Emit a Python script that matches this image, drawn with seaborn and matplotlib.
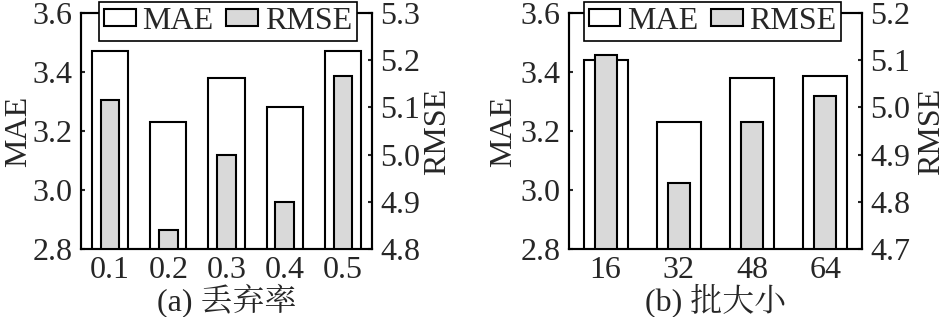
import numpy as np
import pandas as pd
import matplotlib
matplotlib.use("Agg")
import matplotlib.pyplot as plt
import seaborn as sns
from matplotlib.patches import Patch

# data
dropout_labels = ["0.1", "0.2", "0.3", "0.4", "0.5"]
dropout_mae = [3.47, 3.23, 3.38, 3.28, 3.47]
dropout_rmse = [5.116, 4.84, 5.0, 4.90, 5.167]

batch_labels = ["16", "32", "48", "64"]
batch_mae = [3.44, 3.23, 3.38, 3.385]
batch_rmse = [5.111, 4.84, 4.97, 5.024]

mae_ticks = [2.8, 3.0, 3.2, 3.4, 3.6]
rmse_ticks_a = [4.8, 4.9, 5.0, 5.1, 5.2, 5.3]
rmse_ticks_b = [4.7, 4.8, 4.9, 5.0, 5.1, 5.2]
captions = ["(a) 丢弃率", "(b) 批大小"]

sns.set_style("ticks")
FAM = ["Liberation Serif", "Noto Serif CJK SC", "Noto Sans CJK SC"]
plt.rcParams["font.family"] = FAM
plt.rcParams["axes.linewidth"] = 1.5
FS = 23

W, H = 946, 317
fig = plt.figure(figsize=(W / 100, H / 100), dpi=100)

GRAY = "#d9d9d9"

def panel(left, right, labels, mae, rmse, rticks, caption, mw, rw, leg_box, lab_x):
    ax = fig.add_axes([left / W, 1 - 249 / H, (right - left) / W, (249 - 13) / H])
    df = pd.DataFrame({"cat": labels, "mae": mae, "rmse": rmse})
    sns.barplot(data=df, x="cat", y="mae", order=labels, ax=ax, width=mw,
                color="white", edgecolor="black", linewidth=1.5, saturation=1)
    ax.set_ylim(2.8, 3.6)
    ax.set_yticks(mae_ticks)
    ax.set_yticklabels([f"{t:.1f}" for t in mae_ticks])
    ax2 = ax.twinx()
    sns.barplot(data=df, x="cat", y="rmse", order=labels, ax=ax2, width=rw,
                color=GRAY, edgecolor="black", linewidth=1.5, saturation=1)
    ax2.set_ylim(rticks[0], rticks[-1])
    ax2.set_yticks(rticks)
    ax2.set_yticklabels([f"{t:.1f}" for t in rticks])
    ax.set_xlim(-0.5, len(labels) - 0.5)
    for a in (ax, ax2):
        a.tick_params(direction="in", length=3, width=1.5, labelsize=FS, pad=6)
        for s in a.spines.values():
            s.set_visible(True)
            s.set_linewidth(1.5)
            s.set_color("black")
        for lab in a.get_xticklabels() + a.get_yticklabels():
            lab.set_fontfamily(FAM)
    ax.tick_params(axis="x", pad=5)
    ax.set_xlabel("")
    ax2.set_xlabel("")
    ax.set_ylabel("MAE", fontsize=FS, family=FAM)
    ax2.set_ylabel("RMSE", fontsize=FS, family=FAM)
    ax2.yaxis.set_label_position("right")
    w = right - left
    ax.yaxis.set_label_coords((lab_x[0] - left) / w, 0.5)
    ax2.yaxis.set_label_coords((lab_x[1] - left) / w, 0.5)
    handles = [Patch(facecolor="white", edgecolor="black", linewidth=1.5, label="MAE"),
               Patch(facecolor=GRAY, edgecolor="black", linewidth=1.5, label="RMSE")]
    x0, x1 = leg_box
    leg = ax2.legend(handles=handles, ncol=2, loc="upper center",
                     bbox_to_anchor=(((x0 + x1) / 2 - left) / w, 1 + 11 / 236),
                     prop={"family": FAM, "size": FS}, frameon=True, fancybox=False,
                     framealpha=1, edgecolor="black", handlelength=1.0, handleheight=0.45,
                     handletextpad=0.2, columnspacing=0.4, borderpad=0.15,
                     borderaxespad=0)
    leg.get_frame().set_linewidth(1.2)
    fig.text(((left + right) / 2) / W, 1 - 300 / H, caption, ha="center", va="center",
             fontsize=FS, family=FAM)
    return ax, ax2

panel(81, 372, dropout_labels, dropout_mae, dropout_rmse, rmse_ticks_a, captions[0],
      0.62, 0.32, (99, 357), (33, 423))
panel(569, 862, batch_labels, batch_mae, batch_rmse, rmse_ticks_b, captions[1],
      0.6, 0.3, (584, 841), (518, 917))

fig.savefig("out.png", dpi=100)
